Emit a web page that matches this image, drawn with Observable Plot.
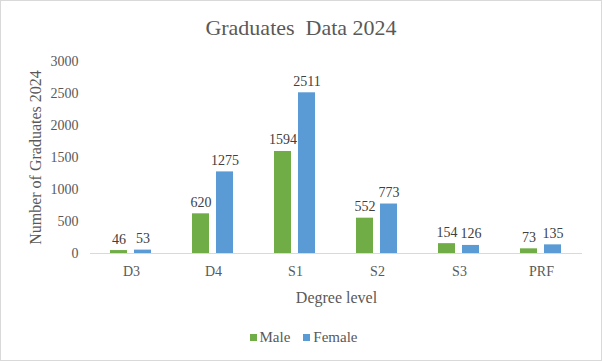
<!DOCTYPE html>
<html>
<head>
<meta charset="utf-8">
<script src="https://cdn.jsdelivr.net/npm/d3@7"></script>
<script src="https://cdn.jsdelivr.net/npm/@observablehq/plot@0.6"></script>
<style>
  html, body { margin: 0; padding: 0; background: #fff; }
  #chart {
    width: 602px; height: 361px; box-sizing: border-box;
    border: 1px solid #d9d9d9; background: #fff; overflow: hidden;
    font-family: "Liberation Serif", "Times New Roman", serif; color: #595959;
  }
  #title {
    height: 49px; box-sizing: border-box; padding-top: 16px;
    text-align: center; font-size: 22px; line-height: 22px; white-space: pre; color: #595959;
    font-family: "Liberation Serif", "Times New Roman", serif;
  }
  #plot svg { display: block; }
  #legend {
    margin-top: 22px; display: flex; justify-content: center; gap: 13px;
    font-size: 15px; line-height: 14px; color: #595959; padding-left: 5px;
    font-family: "Liberation Serif", "Times New Roman", serif;
  }
  .item { display: flex; align-items: center; gap: 3px; }
  .sw { width: 7px; height: 7px; display: inline-block; }
</style>
</head>
<body>
<div id="chart">
  <div id="title"></div>
  <div id="plot"></div>
  <div id="legend"></div>
</div>
<script>
const titleText = "Graduates  Data 2024";
const categories = ["D3", "D4", "S1", "S2", "S3", "PRF"];
const series = ["Male", "Female"];
const colors = ["#70AD47", "#5B9BD5"];
const male = [46, 620, 1594, 552, 154, 73];
const female = [53, 1275, 2511, 773, 126, 135];
const yTicks = [0, 500, 1000, 1500, 2000, 2500, 3000];
const yLabel = "Number of Graduates 2024";
const xLabel = "Degree level";

const data = categories.flatMap((c, i) => [
  {category: c, gender: series[0], value: male[i]},
  {category: c, gender: series[1], value: female[i]}
]);

document.getElementById("title").textContent = titleText;

const chart = Plot.plot({
  width: 600,
  height: 258,
  marginLeft: 87,
  marginRight: 18,
  marginTop: 11,
  marginBottom: 55,
  style: {fontFamily: "'Liberation Serif', 'Times New Roman', serif", fontSize: "14px", color: "#595959", background: "transparent", overflow: "visible"},
  fx: {domain: categories, padding: 0},
  x: {domain: series, paddingInner: 0.28, paddingOuter: 0.79, axis: null},
  y: {domain: [0, 3000]},
  color: {domain: series, range: colors},
  marks: [
    Plot.axisY({ticks: yTicks, tickSize: 0, tickPadding: 12, tickFormat: d => String(d), label: null, fontSize: 14}),
    Plot.axisY({ticks: [], label: yLabel, labelAnchor: "center", labelArrow: "none", labelOffset: 61, fontSize: 16}),
    Plot.axisFx({anchor: "bottom", tickSize: 0, tickPadding: 13, label: null, fontSize: 14}),
    Plot.axisFx({anchor: "bottom", ticks: [], label: xLabel, labelAnchor: "center", labelArrow: "none", labelOffset: 49, fontSize: 16}),
    Plot.barY(data, {fx: "category", x: "gender", y: "value", fill: "gender"}),
    Plot.ruleY([0], {stroke: "#d9d9d9", strokeWidth: 1}),
    Plot.text(data, {fx: "category", x: "gender", y: "value", text: d => String(d.value), dy: -7, lineAnchor: "bottom", fill: "#404040", fontSize: 14})
  ]
});
document.getElementById("plot").appendChild(chart);

const legend = document.getElementById("legend");
series.forEach((s, i) => {
  const item = document.createElement("span");
  item.className = "item";
  const sw = document.createElement("span");
  sw.className = "sw";
  sw.style.background = colors[i];
  const t = document.createElement("span");
  t.textContent = s;
  item.appendChild(sw);
  item.appendChild(t);
  legend.appendChild(item);
});
</script>
</body>
</html>
